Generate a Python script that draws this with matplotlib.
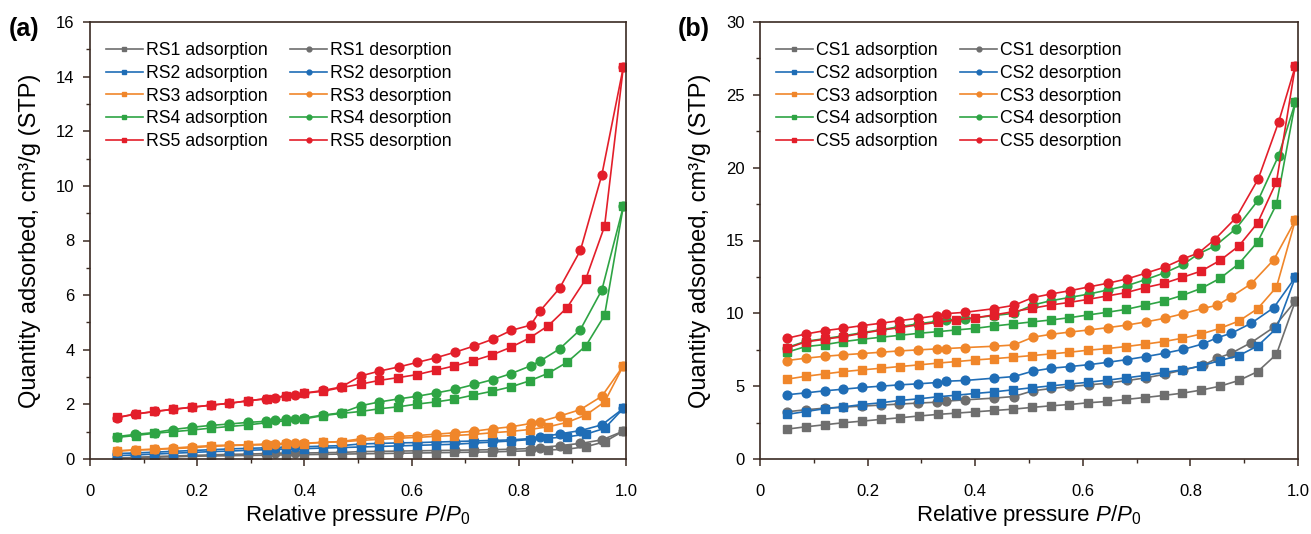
import matplotlib
matplotlib.use("Agg")
import matplotlib.pyplot as plt
from matplotlib.ticker import MultipleLocator, FixedLocator

plt.rcParams["font.family"] = ["Liberation Sans", "DejaVu Sans"]
plt.rcParams["mathtext.fontset"] = "custom"
plt.rcParams["mathtext.rm"] = "Liberation Sans"
plt.rcParams["mathtext.it"] = "Liberation Sans:italic"

# relative pressure points
p_ads = [0.05, 0.085, 0.12, 0.155, 0.19, 0.225, 0.26, 0.295, 0.33, 0.365,
         0.40, 0.435, 0.47, 0.505, 0.54, 0.575, 0.61, 0.645, 0.68, 0.715,
         0.75, 0.785, 0.82, 0.855, 0.89, 0.925, 0.96, 0.995]
p_des_a = [0.995, 0.955, 0.915, 0.876, 0.84, 0.822, 0.786, 0.752, 0.717, 0.681,
           0.646, 0.611, 0.576, 0.540, 0.505, 0.469, 0.435, 0.399, 0.383, 0.365,
           0.346, 0.329, 0.294, 0.260, 0.225, 0.190, 0.155, 0.121, 0.084, 0.050]
p_des_b = [0.995, 0.955, 0.913, 0.876, 0.85, 0.823, 0.787, 0.752, 0.717, 0.683,
           0.647, 0.612, 0.577, 0.541, 0.507, 0.472, 0.435, 0.381, 0.346, 0.329,
           0.294, 0.259, 0.225, 0.19, 0.154, 0.12, 0.085, 0.05]
p_des_b45 = [0.995, 0.964, 0.926, 0.885, 0.845, 0.815, 0.787, 0.752, 0.717, 0.683,
             0.647, 0.612, 0.577, 0.541, 0.507, 0.472, 0.435, 0.381, 0.346, 0.329,
             0.294, 0.259, 0.225, 0.19, 0.154, 0.12, 0.085, 0.05]

# panel (a): RS samples, cm3/g
rs1_ads = [0.03, 0.05, 0.07, 0.08, 0.10, 0.11, 0.12, 0.13, 0.14, 0.15, 0.16, 0.17, 0.18, 0.19,
           0.20, 0.21, 0.22, 0.23, 0.24, 0.25, 0.26, 0.28, 0.30, 0.33, 0.36, 0.45, 0.63, 1.02]
rs1_des = [1.02, 0.70, 0.57, 0.49, 0.41, 0.38, 0.36, 0.34, 0.33, 0.32, 0.31, 0.30, 0.29, 0.28, 0.27,
           0.24, 0.23, 0.22, 0.22, 0.21, 0.21, 0.20, 0.18, 0.17, 0.15, 0.13, 0.11, 0.09, 0.06, 0.03]
rs2_ads = [0.12, 0.15, 0.18, 0.21, 0.24, 0.27, 0.29, 0.32, 0.34, 0.36, 0.38, 0.40, 0.42, 0.44,
           0.46, 0.48, 0.50, 0.52, 0.54, 0.58, 0.62, 0.66, 0.71, 0.76, 0.81, 0.91, 1.12, 1.85]
rs2_des = [1.85, 1.25, 1.04, 0.92, 0.80, 0.75, 0.70, 0.68, 0.66, 0.64, 0.62, 0.60, 0.59, 0.57, 0.55,
           0.49, 0.47, 0.45, 0.44, 0.43, 0.42, 0.41, 0.39, 0.37, 0.34, 0.31, 0.28, 0.25, 0.22, 0.20]
rs3_ads = [0.30, 0.33, 0.35, 0.38, 0.41, 0.46, 0.49, 0.51, 0.52, 0.55, 0.56, 0.61, 0.63, 0.68,
           0.72, 0.76, 0.79, 0.83, 0.86, 0.90, 0.96, 1.01, 1.08, 1.18, 1.34, 1.61, 2.09, 3.41]
rs3_des = [3.41, 2.30, 1.81, 1.57, 1.37, 1.30, 1.18, 1.11, 1.02, 0.96, 0.91, 0.86, 0.83, 0.79, 0.74,
           0.64, 0.61, 0.58, 0.57, 0.57, 0.56, 0.55, 0.52, 0.51, 0.49, 0.45, 0.40, 0.36, 0.33, 0.29]
rs4_ads = [0.79, 0.86, 0.94, 1.00, 1.06, 1.13, 1.19, 1.25, 1.33, 1.40, 1.47, 1.59, 1.67, 1.74,
           1.84, 1.91, 2.01, 2.09, 2.19, 2.34, 2.48, 2.64, 2.86, 3.14, 3.54, 4.14, 5.26, 9.25]
rs4_des = [9.25, 6.19, 4.74, 4.03, 3.59, 3.41, 3.13, 2.91, 2.73, 2.55, 2.42, 2.30, 2.20, 2.09, 1.95,
           1.69, 1.61, 1.50, 1.48, 1.45, 1.43, 1.38, 1.34, 1.28, 1.23, 1.16, 1.08, 0.97, 0.90, 0.82]
rs5_ads = [1.52, 1.65, 1.74, 1.82, 1.89, 1.97, 2.04, 2.13, 2.21, 2.31, 2.41, 2.48, 2.62, 2.74,
           2.88, 2.98, 3.09, 3.25, 3.41, 3.60, 3.81, 4.09, 4.43, 4.88, 5.54, 6.59, 8.52, 14.35]
rs5_des = [14.35, 10.41, 7.64, 6.25, 5.43, 4.90, 4.71, 4.39, 4.14, 3.91, 3.71, 3.54, 3.37, 3.22, 3.04,
           2.64, 2.51, 2.41, 2.34, 2.31, 2.24, 2.21, 2.13, 2.04, 1.97, 1.90, 1.82, 1.74, 1.64, 1.51]

# panel (b): CS samples, cm3/g
cs1_ads = [2.05, 2.21, 2.35, 2.49, 2.60, 2.72, 2.83, 2.95, 3.06, 3.15, 3.24, 3.33, 3.42, 3.54,
           3.65, 3.74, 3.86, 3.95, 4.09, 4.22, 4.36, 4.52, 4.73, 5.00, 5.39, 6.00, 7.19, 10.84]
cs1_des = [10.84, 9.04, 7.99, 7.26, 6.92, 6.42, 6.12, 5.82, 5.57, 5.39, 5.21, 5.09, 4.98, 4.84,
           4.68, 4.29, 4.18, 4.06, 3.97, 3.90, 3.84, 3.77, 3.70, 3.63, 3.56, 3.49, 3.38, 3.24]
cs2_ads = [3.06, 3.26, 3.45, 3.58, 3.74, 3.86, 4.02, 4.13, 4.27, 4.38, 4.50, 4.61, 4.75, 4.89,
           5.02, 5.14, 5.27, 5.41, 5.57, 5.73, 5.94, 6.12, 6.39, 6.76, 7.10, 7.76, 8.97, 12.47]
cs2_des = [12.47, 10.39, 9.32, 8.63, 8.33, 7.90, 7.53, 7.26, 7.03, 6.83, 6.64, 6.48, 6.35, 6.23,
           6.03, 5.66, 5.55, 5.39, 5.34, 5.25, 5.16, 5.09, 5.00, 4.91, 4.79, 4.68, 4.54, 4.41]
cs3_ads = [5.48, 5.68, 5.84, 6.00, 6.12, 6.23, 6.35, 6.46, 6.58, 6.69, 6.80, 6.89, 6.99, 7.10,
           7.21, 7.33, 7.47, 7.58, 7.72, 7.88, 8.06, 8.29, 8.58, 8.97, 9.47, 10.32, 11.80, 16.39]
cs3_des = [16.39, 13.68, 12.03, 11.14, 10.55, 10.34, 9.98, 9.66, 9.41, 9.20, 9.02, 8.86, 8.72, 8.56,
           8.36, 7.83, 7.74, 7.65, 7.58, 7.56, 7.49, 7.42, 7.33, 7.24, 7.15, 7.05, 6.92, 6.76]
cs4_ads = [7.33, 7.72, 7.85, 8.06, 8.22, 8.36, 8.49, 8.63, 8.74, 8.86, 8.97, 9.13, 9.27, 9.41,
           9.54, 9.70, 9.89, 10.07, 10.27, 10.55, 10.84, 11.23, 11.71, 12.40, 13.40, 14.90, 17.49, 24.48]
cs4_des = [24.48, 20.83, 17.77, 15.82, 14.60, 14.09, 13.36, 12.78, 12.32, 11.91, 11.61, 11.33, 11.10, 10.87,
           10.57, 10.00, 9.85, 9.61, 9.54, 9.45, 9.28, 9.08, 8.88, 8.67, 8.45, 8.26, 8.08, 7.65]
cs5_ads = [7.60, 8.04, 8.22, 8.40, 8.63, 8.84, 9.02, 9.22, 9.38, 9.54, 9.70, 9.89, 10.11, 10.34,
           10.57, 10.75, 10.96, 11.19, 11.42, 11.76, 12.05, 12.47, 12.90, 13.63, 14.62, 16.21, 19.03, 26.97]
cs5_des = [26.97, 23.13, 19.22, 16.57, 15.06, 14.14, 13.75, 13.17, 12.76, 12.37, 12.07, 11.82, 11.56, 11.33,
           11.08, 10.55, 10.32, 10.07, 9.98, 9.84, 9.66, 9.50, 9.32, 9.16, 8.97, 8.81, 8.58, 8.29]

colors = ["#6e6e6e", "#1f6db6", "#f0862a", "#2ea444", "#e31e2a"]
spine_col = "#3a2a22"

fig = plt.figure(figsize=(13.11, 5.34), dpi=100)
ax_a = fig.add_axes([90 / 1311, 75 / 534, 536 / 1311, 437 / 534])
ax_b = fig.add_axes([760 / 1311, 75 / 534, 538 / 1311, 437 / 534])


def draw_panel(ax, prefix, ads_list, des_list, des_p_list, ymax, ystep, letter):
    ads_handles = []
    des_handles = []
    for i, (ya, yd, pd_) in enumerate(zip(ads_list, des_list, des_p_list)):
        c = colors[i]
        (ha,) = ax.plot(p_ads, ya, "-s", color=c, lw=1.2, ms=5.8,
                        label=f"{prefix}{i + 1} adsorption")
        (hd,) = ax.plot(pd_, yd, "-o", color=c, lw=1.2, ms=6.3,
                        label=f"{prefix}{i + 1} desorption")
        ads_handles.append(ha)
        des_handles.append(hd)

    ax.set_xlim(0, 1.0)
    ax.set_ylim(0, ymax)
    ax.xaxis.set_major_locator(FixedLocator([0, 0.2, 0.4, 0.6, 0.8, 1.0]))
    ax.xaxis.set_minor_locator(MultipleLocator(0.1))
    ax.set_xticklabels(["0", "0.2", "0.4", "0.6", "0.8", "1.0"])
    ax.yaxis.set_major_locator(MultipleLocator(ystep))
    ax.yaxis.set_minor_locator(MultipleLocator(ystep / 2))
    ax.tick_params(which="major", direction="out", length=5, width=1.1,
                   color=spine_col, labelsize=12, pad=6)
    ax.tick_params(which="minor", direction="out", length=3, width=1.0,
                   color=spine_col)
    ax.tick_params(axis="x", which="major", pad=13)
    for s in ax.spines.values():
        s.set_color(spine_col)
        s.set_linewidth(1.2)

    ax.set_xlabel(r"Relative pressure $P$/$P_0$", fontsize=16, labelpad=3)
    ax.set_ylabel("Quantity adsorbed, cm³/g (STP)", fontsize=17, labelpad=11)

    ax.legend(ads_handles + des_handles,
              [h.get_label() for h in ads_handles + des_handles],
              ncol=2, loc="upper left", frameon=False, fontsize=12.7,
              markerscale=0.55, handlelength=2.1, handletextpad=0.15,
              labelspacing=0.32, columnspacing=1.3,
              bbox_to_anchor=(0.0, 0.99), borderaxespad=0.5)

    ax.text(-0.152, 0.983, letter, transform=ax.transAxes, fontsize=18,
            fontweight="bold", ha="left", va="center")


draw_panel(ax_a, "RS",
           [rs1_ads, rs2_ads, rs3_ads, rs4_ads, rs5_ads],
           [rs1_des, rs2_des, rs3_des, rs4_des, rs5_des],
           [p_des_a] * 5, 16, 2, "(a)")
draw_panel(ax_b, "CS",
           [cs1_ads, cs2_ads, cs3_ads, cs4_ads, cs5_ads],
           [cs1_des, cs2_des, cs3_des, cs4_des, cs5_des],
           [p_des_b, p_des_b, p_des_b, p_des_b45, p_des_b45], 30, 5, "(b)")

fig.savefig("out.png", dpi=100)
